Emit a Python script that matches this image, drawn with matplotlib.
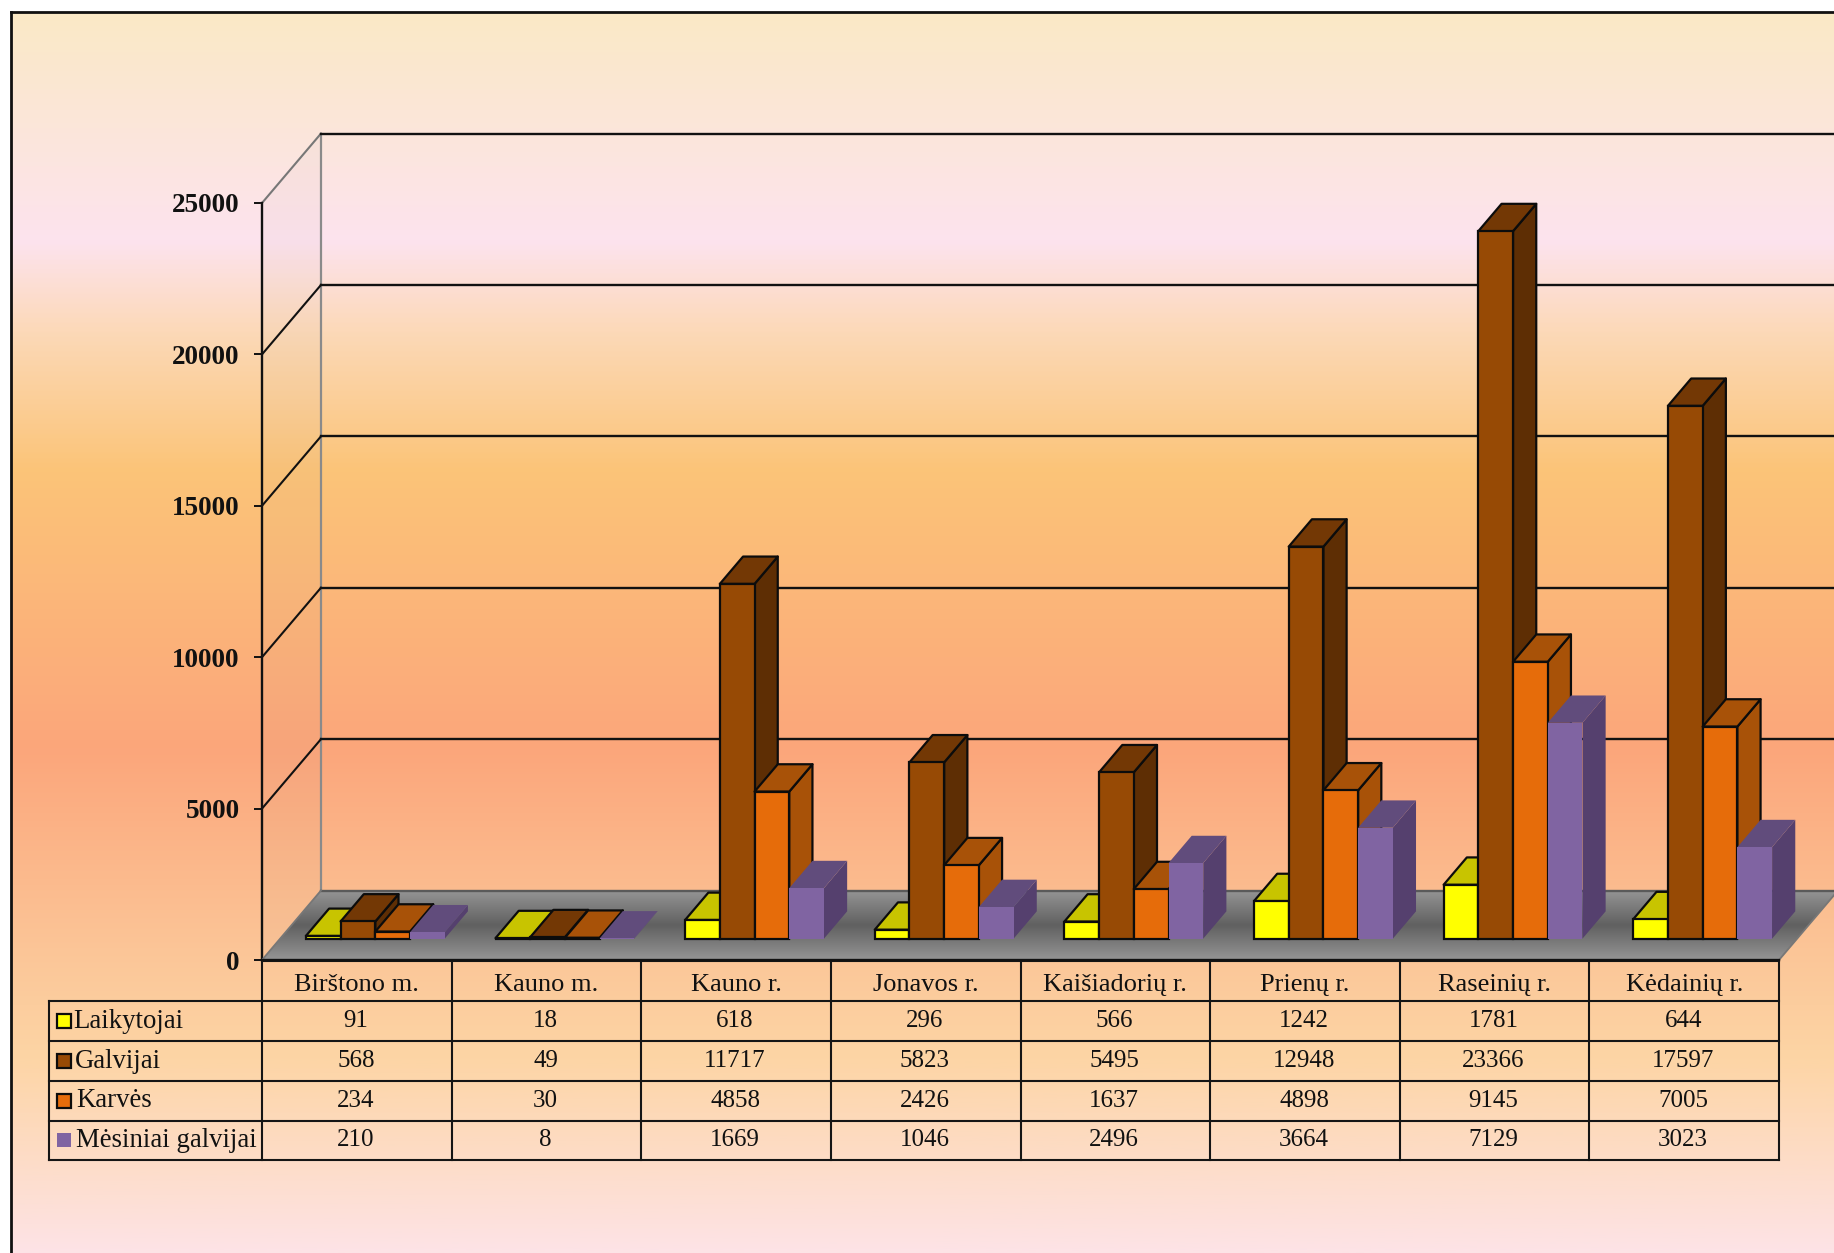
import matplotlib
matplotlib.use('Agg')
import matplotlib.pyplot as plt
from matplotlib.colors import LinearSegmentedColormap
from matplotlib.patches import Polygon, Rectangle
import numpy as np

plt.rcParams['font.family'] = ['Liberation Serif', 'DejaVu Serif']

categories = ['Birštono m.', 'Kauno m.', 'Kauno r.', 'Jonavos r.',
              'Kaišiadorių r.', 'Prienų r.', 'Raseinių r.', 'Kėdainių r.']
series_names = ['Laikytojai', 'Galvijai', 'Karvės', 'Mėsiniai galvijai']
laikytojai = [91, 18, 618, 296, 566, 1242, 1781, 644]
galvijai = [568, 49, 11717, 5823, 5495, 12948, 23366, 17597]
karves = [234, 30, 4858, 2426, 1637, 4898, 9145, 7005]
mesiniai = [210, 8, 1669, 1046, 2496, 3664, 7129, 3023]
series_values = [laikytojai, galvijai, karves, mesiniai]
y_ticks = [0, 5000, 10000, 15000, 20000, 25000]

# front, top, side colours of each series
front_cols = ['#FFFF00', '#974A05', '#E66C0A', '#8064A2']
top_cols = ['#C8C400', '#733805', '#A85208', '#614C7C']
side_cols = ['#A8A400', '#5E2E04', '#A85208', '#55406E']
edge_cols = ['#0C0C0C', '#0C0C0C', '#0C0C0C', 'none']

W, H = 1834, 1253
DX = 59 / 189.6   # full depth of the box, in categories
DY = 69.5 / (757 / 25000)   # full depth of the box, in values
D0, D1 = 0.307, 0.70   # where the bars sit in the depth
GAP, BAR_W = 0.136, 0.183

fig = plt.figure(figsize=(W / 100, H / 100), dpi=100, facecolor='white')

#---------------------------------------------------------------------
# page layer, in pixels: background, frame and the table
#---------------------------------------------------------------------
bg = fig.add_axes([0, 0, 1, 1], zorder=0)
bg.set_xlim(0, W)
bg.set_ylim(H, 0)
bg.axis('off')

stops = [(12, '#FAE9C6'), (240, '#FDE3EE'), (330, '#FCD9B8'), (470, '#FBC478'),
         (750, '#FCA67B'), (950, '#FBC597'), (1060, '#FDD5A5'), (1253, '#FDE3E6')]
cmap = LinearSegmentedColormap.from_list(
    'page', [((y - 12) / (1253 - 12), c) for y, c in stops])
bg.imshow(np.linspace(0, 1, 512).reshape(-1, 1), cmap=cmap, aspect='auto',
          extent=(11, W, H, 12), interpolation='bilinear')
bg.set_xlim(0, W)
bg.set_ylim(H, 0)
bg.plot([11, 11], [H, 12], color='#111111', lw=2)
bg.plot([11, W], [12, 12], color='#111111', lw=2)

col_x = np.linspace(262, 1779, len(categories) + 1)
row_y = [961, 1001, 1041, 1081, 1120.5, 1160]
line_kw = dict(color='#151515', lw=1.5)
bg.plot([48.7, 48.7], [row_y[1], row_y[-1]], **line_kw)
for x in col_x:
    bg.plot([x, x], [row_y[0], row_y[-1]], **line_kw)
bg.plot([262, 1779], [row_y[0], row_y[0]], **line_kw)
for y in row_y[1:]:
    bg.plot([48.7, 1779], [y, y], **line_kw)

for i, name in enumerate(categories):
    bg.text((col_x[i] + col_x[i + 1]) / 2, (row_y[0] + row_y[1]) / 2 + 4, name,
            ha='center', va='center', fontsize=19, color='#111111')
label_x = [73, 75, 76, 76]
for r, name in enumerate(series_names):
    yc = (row_y[r + 1] + row_y[r + 2]) / 2
    bg.add_patch(Rectangle((57, yc - 7), 14, 14, facecolor=front_cols[r],
                           edgecolor=edge_cols[r], lw=1.6))
    bg.text(label_x[r], yc, name, ha='left', va='center', fontsize=19.3, color='#111111')
    for i, val in enumerate(series_values[r]):
        bg.text((col_x[i] + col_x[i + 1]) / 2 - 1, yc, str(val), ha='center', va='center',
                fontsize=18, color='#111111')

#---------------------------------------------------------------------
# chart layer, in data units
#---------------------------------------------------------------------
ax = fig.add_axes([262 / W, 1 - 960 / H, (1779 - 262) / W, (960 - 203) / H], zorder=1)
ax.patch.set_alpha(0)

def pt(x, v, d):
    return (x + d * DX, v + d * DY)

n = len(categories)
top = y_ticks[-1]

# left wall
ax.add_patch(Polygon([pt(0, 0, 0), pt(0, 0, 1), pt(0, top, 1), pt(0, top, 0)],
                     facecolor='#808080', alpha=0.03, edgecolor='none', clip_on=False))
ax.plot(*zip(pt(0, 0, 1), pt(0, top, 1)), color='#8A8A8A', lw=1.6, clip_on=False, zorder=2)

# grid lines on both walls
for v in y_ticks[1:]:
    side = '#777777' if v == top else '#111111'
    ax.plot(*zip(pt(0, v, 0), pt(0, v, 1)), color=side, lw=1.5, clip_on=False, zorder=2)
    ax.plot(*zip(pt(0, v, 1), pt(n, v, 1)), color='#111111', lw=1.7, clip_on=False, zorder=2)

# floor
floor_cmap = LinearSegmentedColormap.from_list(
    'floor', [(0, '#959595'), (0.5, '#606060'), (1, '#959595')])
floor = Polygon([pt(0, 0, 0), pt(n, 0, 0), pt(n, 0, 1), pt(0, 0, 1)], transform=ax.transData,
                facecolor='none', edgecolor='none')
ax.add_patch(floor)
im = ax.imshow(np.linspace(0, 1, 128).reshape(-1, 1), cmap=floor_cmap, aspect='auto',
               origin='lower', extent=(0, n + DX, 0, DY), zorder=3)
im.set_clip_box(fig.bbox)
im.set_clip_path(floor)
ax.plot(*zip(pt(0, 0, 1), pt(n, 0, 1)), color='#5A5A5A', lw=1.7, clip_on=False, zorder=3)
ax.plot(*zip(pt(0, 0, 0), pt(0, 0, 1)), color='#777777', lw=1.3, clip_on=False, zorder=3)
ax.plot(*zip(pt(n, 0, 0), pt(n, 0, 1)), color='#777777', lw=1.3, clip_on=False, zorder=3)
ax.plot([0, n], [0, 0], color='#111111', lw=1.7, clip_on=False, zorder=3)

# bars, painted left to right
z = 4
for i in range(n):
    for s, vals in enumerate(series_values):
        v = vals[i]
        x0 = i + GAP + s * BAR_W
        x1 = x0 + BAR_W
        lw = 1.6 if s < 3 else 0
        side = [pt(x1, 0, D0), pt(x1, 0, D1), pt(x1, v, D1), pt(x1, v, D0)]
        roof = [pt(x0, v, D0), pt(x1, v, D0), pt(x1, v, D1), pt(x0, v, D1)]
        ax.add_patch(Polygon(side, facecolor=side_cols[s], edgecolor=edge_cols[s], lw=lw,
                             clip_on=False, zorder=z, joinstyle='round'))
        ax.add_patch(Polygon(roof, facecolor=top_cols[s], edgecolor=edge_cols[s], lw=lw,
                             clip_on=False, zorder=z, joinstyle='round'))
        ax.bar(x0 + D0 * DX + BAR_W / 2, v, BAR_W, bottom=D0 * DY, color=front_cols[s],
               edgecolor=edge_cols[s], lw=lw, clip_on=False, zorder=z + 1)
        z += 2

ax.set_xlim(0, n)
ax.set_ylim(0, top)
ax.set_xticks([])
ax.set_yticks(y_ticks)
ax.set_yticklabels([str(t) for t in y_ticks], fontweight='bold', fontsize=19.5, color='#111111',
                   va='center_baseline')
ax.tick_params(axis='y', length=6, width=1.4, pad=10, color='#111111')
for name in ['top', 'right', 'bottom']:
    ax.spines[name].set_visible(False)
ax.spines['left'].set_linewidth(1.7)
ax.spines['left'].set_color('#111111')

fig.savefig('out.png', dpi=100, facecolor='white')
